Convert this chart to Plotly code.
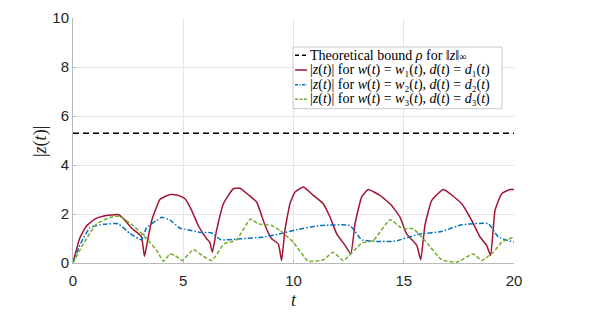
import plotly.graph_objects as go

rho = 5.3
t_bound = [0, 20]

t_red = [0, 0.3, 0.6, 1.0, 1.4, 2.05, 2.3, 2.66, 3.1, 3.24, 3.4, 3.57, 3.95, 4.4, 4.8, 5.08, 5.38, 5.68,
         6.06, 6.2, 6.32, 6.51, 6.82, 7.27, 7.57, 8.0, 8.33, 8.71, 9.01, 9.31, 9.46, 9.61, 9.84, 10.07,
         10.45, 10.9, 11.35, 11.66, 11.96, 12.34, 12.6, 12.79, 13.09, 13.39, 13.92, 14.45, 14.83, 15.13,
         15.59, 15.77, 15.96, 16.27, 16.8, 17.63, 18.08, 18.46, 18.76, 18.94, 19.14, 19.44, 19.82, 20]
z_red = [0, 1.0, 1.5, 1.8, 1.92, 1.98, 1.8, 1.42, 1.08, 0.27, 1.0, 1.74, 2.6, 2.8, 2.75, 2.62, 2.15, 1.53,
         0.99, 0.85, 0.44, 1.33, 2.42, 3.03, 3.05, 2.75, 2.49, 1.53, 0.99, 0.78, 0.1, 1.33, 2.42, 2.9,
         3.1, 2.76, 2.42, 1.87, 1.19, 0.72, 0.37, 1.6, 2.69, 3.0, 2.76, 2.35, 1.87, 1.19,
         0.72, 0.13, 1.53, 2.56, 3.0, 2.42, 1.74, 1.06, 0.72, 0.31, 2.15, 2.83, 3.0, 3.0]

t_blue = [0, 0.32, 0.77, 1.37, 2.05, 2.59, 3.1, 3.34, 3.8, 4.02, 4.4, 4.85, 5.08, 5.76, 6.29, 6.7, 7.65,
          8.56, 9.39, 10.14, 11.2, 12.56, 13.09, 13.77, 14.6, 15.66, 16.72, 17.63, 18.84, 19.29, 20]
z_blue = [0, 0.75, 1.45, 1.58, 1.6, 1.2, 0.95, 1.45, 1.74, 1.87, 1.75, 1.42, 1.38, 1.25, 1.23, 0.95, 0.99,
          1.05, 1.19, 1.36, 1.53, 1.53, 0.95, 0.88, 0.89, 1.17, 1.29, 1.56, 1.6, 1.06, 0.85]

t_green = [0, 0.47, 1.07, 1.83, 2.13, 2.73, 3.34, 3.8, 4.1, 4.4, 4.63, 4.95, 5.46, 5.91, 6.3, 6.85, 7.42,
           8.05, 8.4, 9.01, 9.39, 9.99, 10.67, 11.35, 11.8, 12.26, 13.09, 13.62, 14.38, 14.83, 15.06,
           15.43, 15.96, 16.72, 17.4, 18.15, 18.53, 19.06, 19.44, 20]
z_green = [0, 0.78, 1.6, 1.9, 1.9, 1.53, 0.99, 0.51, 0.07, 0.37, 0.31, 0.1, 0.55, 0.27, 0.1, 0.78, 0.95,
           1.8, 1.6, 1.53, 1.33, 0.85, 0.07, 0.13, 0.44, 0.1, 0.81, 0.92, 1.77, 1.47, 1.4,
           1.4, 0.92, 0.13, 0.03, 0.37, 0.1, 0.44, 0.85, 1.06]

x_ticks = [0, 5, 10, 15, 20]
y_ticks = [0, 2, 4, 6, 8, 10]

names = [
    "Theoretical bound <i>ρ</i> for ‖<i>z</i>‖<span style='font-size:10px'>∞</span>",
    "|<i>z</i>(<i>t</i>)| for <i>w</i>(<i>t</i>) = <i>w</i>₁(<i>t</i>), <i>d</i>(<i>t</i>) = <i>d</i>₁(<i>t</i>)",
    "|<i>z</i>(<i>t</i>)| for <i>w</i>(<i>t</i>) = <i>w</i>₂(<i>t</i>), <i>d</i>(<i>t</i>) = <i>d</i>₂(<i>t</i>)",
    "|<i>z</i>(<i>t</i>)| for <i>w</i>(<i>t</i>) = <i>w</i>₃(<i>t</i>), <i>d</i>(<i>t</i>) = <i>d</i>₃(<i>t</i>)",
]
colors = ["#000000", "#A2142F", "#0072BD", "#77AC30"]
dashes = ["6px,4px", "solid", "5px,2px,1.5px,2px", "4px,2px"]
legend_dashes = ["4px,3px", "solid", "3px,1.5px,1px,1.5px", "3px,1.5px"]

fig = go.Figure()
fig.add_trace(go.Scatter(x=t_bound, y=[rho, rho], mode="lines", name=names[0],
                         line=dict(color=colors[0], width=1.5, dash=dashes[0])))
fig.add_trace(go.Scatter(x=t_red, y=z_red, mode="lines", name=names[1],
                         line=dict(color=colors[1], width=1.5, dash=dashes[1], shape="spline", smoothing=0.4)))
fig.add_trace(go.Scatter(x=t_blue, y=z_blue, mode="lines", name=names[2],
                         line=dict(color=colors[2], width=1.5, dash=dashes[2], shape="spline", smoothing=0.4)))
fig.add_trace(go.Scatter(x=t_green, y=z_green, mode="lines", name=names[3],
                         line=dict(color=colors[3], width=1.5, dash=dashes[3], shape="spline", smoothing=0.4)))

axis_common = dict(showgrid=True, gridcolor="#e6e6e6", gridwidth=1, zeroline=False,
                   showline=True, linecolor="#b8b8b8", linewidth=1,
                   ticks="inside", ticklen=3, tickcolor="#b8b8b8",
                   tickfont=dict(family="Liberation Sans, Arial, sans-serif", size=15, color="#262626"))

# Legend drawn as a box with sample lines and text (paper coordinates of the plot area)
PL, PR, PT, PB = 73.0, 514.0, 18.0, 263.0
def px_x(p):
    return (p - PL) / (PR - PL)
def px_y(p):
    return (PB - p) / (PB - PT)

shapes = [dict(type="rect", xref="paper", yref="paper",
               x0=px_x(293), x1=px_x(502), y0=px_y(108.7), y1=px_y(47),
               fillcolor="white", line=dict(color="#c8c8c8", width=1), layer="above")]
annotations = []
row_y = [55.3, 70.0, 84.7, 99.3]
for i in range(4):
    yy = px_y(row_y[i])
    shapes.append(dict(type="line", xref="paper", yref="paper",
                       x0=px_x(295), x1=px_x(307), y0=yy, y1=yy, layer="above",
                       line=dict(color=colors[i], width=1.5, dash=legend_dashes[i])))
    annotations.append(dict(text=names[i], xref="paper", yref="paper", x=px_x(308), y=yy,
                            xanchor="left", yanchor="middle", showarrow=False,
                            font=dict(family="Liberation Serif, serif", size=14, color="#000000")))

annotations.append(dict(text="|<i>z</i>(<i>t</i>)|", xref="paper", yref="paper",
                        x=px_x(40), y=px_y(142), textangle=-90, showarrow=False,
                        xanchor="center", yanchor="middle",
                        font=dict(family="Liberation Serif, serif", size=18, color="#262626")))
annotations.append(dict(text="<i>t</i>", xref="paper", yref="paper",
                        x=px_x(293.5), y=px_y(300), showarrow=False,
                        xanchor="center", yanchor="middle",
                        font=dict(family="Liberation Serif, serif", size=18, color="#262626")))

fig.update_layout(
    width=601, height=304,
    margin=dict(l=65, r=95, t=10, b=49, autoexpand=False),
    paper_bgcolor="white", plot_bgcolor="white",
    xaxis=dict(range=[0, 20], tickvals=x_ticks, ticktext=[str(v) for v in x_ticks],
               ticklabelstandoff=4, **axis_common),
    yaxis=dict(range=[0, 10], tickvals=y_ticks, ticktext=[str(v) for v in y_ticks],
               **axis_common),
    shapes=shapes,
    annotations=annotations,
    showlegend=False,
)

fig.write_html("out.html")
